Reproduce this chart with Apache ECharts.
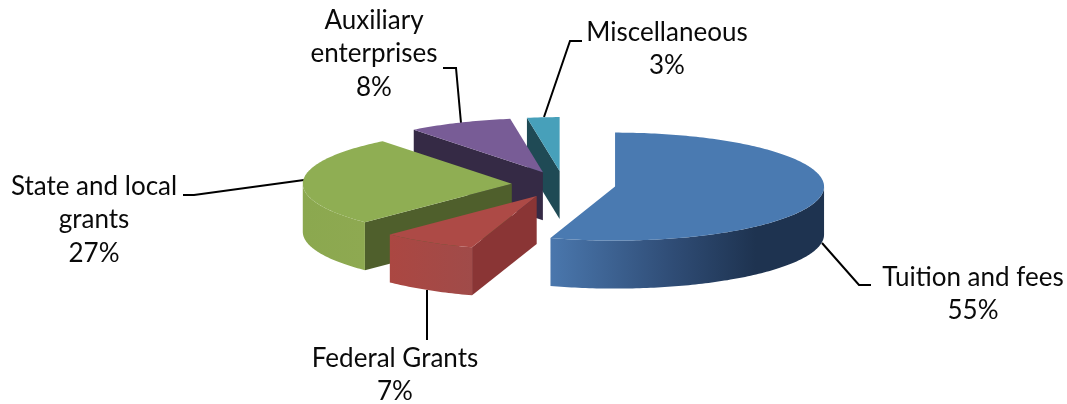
<!DOCTYPE html>
<html>
<head>
<meta charset="utf-8">
<style>
html,body{margin:0;padding:0;background:#fff;}
#main{width:1067px;height:404px;}
</style>
<script src="https://cdn.jsdelivr.net/npm/echarts@6/dist/echarts.min.js"></script>
</head>
<body>
<div id="main"></div>
<script>
//data
var categories = ['Tuition and fees', 'Federal Grants', 'State and local\ngrants', 'Auxiliary\nenterprises', 'Miscellaneous'];
var shares = [55, 7.4, 27, 8.1, 2.5];

//colours per slice: top, cut wall, rim gradient left -> right
var topColors = ['#4a7ab1', '#ad4a46', '#8fae53', '#785c96', '#47a0ba'];
var wallColors = ['#1e3350', '#8a3535', '#4f5f2c', '#352a45', '#1f4a55'];
var rimColors = [
    [[0, '#4a77ad'], [0.45, '#2f4c75'], [0.75, '#1e3350'], [1, '#1e3350']],
    [[0, '#ab4742'], [1, '#a04b49']],
    [[0, '#8ba84f'], [1, '#8ea951']],
    [[0, '#352a45'], [1, '#352a45']],
    [[0, '#1f4a55'], [1, '#1f4a55']]
];

//pie geometry
var cx = 563.7, cy = 184.5;
var rx = 209, ry = 54, depth = 48, explode = 52;

//label centres and leader lines
var labelCenters = [[973, 294], [395, 375], [94, 220], [374, 54], [667, 49]];
var leaders = [
    [[822, 243], [859, 285], [871, 285]],
    [[427, 290], [427, 340]],
    [[304, 180], [194, 195], [183, 195]],
    [[461, 123], [456, 68], [443, 68]],
    [[544, 117], [570, 41], [582, 41]]
];

var total = shares.reduce(function(a, b){ return a + b; }, 0);

function toDeg(v){
    return echarts.number.linearMap(v, [0, total], [0, 360], false);
}
function pt(ox, oy, deg){
    var t = deg * Math.PI / 180;
    return [ox + rx * Math.sin(t), oy - ry * Math.cos(t)];
}
function arc(ox, oy, a0, a1){
    var pts = [];
    var n = Math.max(2, Math.ceil(Math.abs(a1 - a0)));
    for(var i = 0; i <= n; i++){
        pts.push(pt(ox, oy, a0 + (a1 - a0) * i / n));
    }
    return pts;
}

function renderSlice(params, api){
    var idx = api.value(1);
    var before = 0;
    for(var i = 0; i < idx; i++){ before += shares[i]; }
    var a0 = toDeg(before);
    var a1 = toDeg(before + api.value(0));
    var mid = (a0 + a1) / 2 * Math.PI / 180;
    //pull the slice out along its middle angle
    var ox = cx + explode * Math.sin(mid);
    var oy = cy - explode * ry / rx * Math.cos(mid);
    var children = [];

    //cut wall, only when it faces the viewer
    if(a0 > 180){
        var r0 = pt(ox, oy, a0);
        children.push({
            type: 'polygon',
            shape: {points: [[ox, oy], r0, [r0[0], r0[1] + depth], [ox, oy + depth]]},
            style: {fill: wallColors[idx]}
        });
    }
    //outer rim, front half only
    var s = Math.max(a0, 90), e = Math.min(a1, 270);
    if(e > s){
        var upper = arc(ox, oy, s, e);
        var lower = arc(ox, oy + depth, e, s);
        children.push({
            type: 'polygon',
            shape: {points: upper.concat(lower)},
            style: {
                fill: new echarts.graphic.LinearGradient(0, 0, 1, 0, rimColors[idx].map(function(c){
                    return {offset: c[0], color: c[1]};
                }))
            }
        });
    }
    //top face
    children.push({
        type: 'polygon',
        shape: {points: [[ox, oy]].concat(arc(ox, oy, a0, a1))},
        style: {fill: topColors[idx]}
    });
    return {type: 'group', children: children};
}

var graphics = [];
leaders.forEach(function(line){
    graphics.push({
        type: 'polyline',
        shape: {points: line},
        style: {fill: null, stroke: '#000', lineWidth: 2}
    });
});
categories.forEach(function(name, i){
    graphics.push({
        type: 'text',
        x: labelCenters[i][0],
        y: labelCenters[i][1],
        style: {
            text: name + '\n' + Math.round(shares[i]) + '%',
            font: '26px Lato',
            lineHeight: 33.7,
            fill: '#0a0a0a',
            align: 'center',
            verticalAlign: 'middle'
        }
    });
});

var chart = echarts.init(document.getElementById('main'));
chart.setOption({
    animation: false,
    backgroundColor: '#fff',
    graphic: graphics,
    series: [{
        type: 'custom',
        coordinateSystem: 'none',
        renderItem: renderSlice,
        //back slices first so the front ones cover them
        data: shares.map(function(v, i){ return [v, i]; }).reverse()
    }]
});
</script>
</body>
</html>
